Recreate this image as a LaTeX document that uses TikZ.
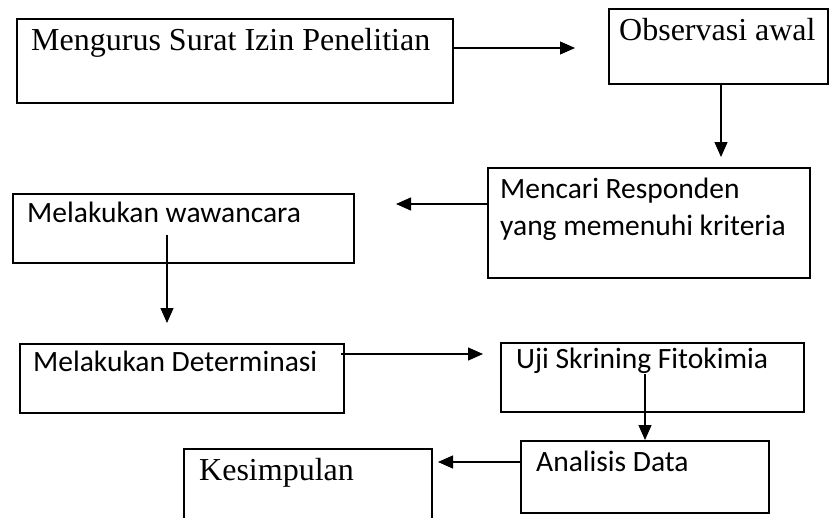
\documentclass[tikz,border=0pt]{standalone}
\usepackage{fontspec}
\setmainfont{Liberation Serif}
\newfontfamily\calibri{Carlito}
\usetikzlibrary{arrows.meta,calc,positioning}

\begin{document}
\begin{tikzpicture}[x=1pt,y=-1pt,
    box/.style={draw, line width=2pt, rectangle, anchor=north west, inner sep=0pt},
    serif/.style={anchor=base west, inner sep=0pt, font=\fontsize{32}{37}\selectfont},
    sans/.style={anchor=base west, inner sep=0pt, align=left, font=\calibri\fontsize{29.5}{37}\selectfont},
    arr/.style={line width=1.2pt, -{Triangle[length=15pt,width=13pt]}}]
        \useasboundingbox (0,0) rectangle (829,517);
        \clip (0,0) rectangle (829,517);
        %Draw boxes
        \node[box, minimum width=436pt, minimum height=84pt] (mengurus) at (16,18) {};
        \node[box, minimum width=219pt, minimum height=75pt] (observasi) at (608,8) {};
        \node[box, minimum width=322pt, minimum height=110pt] (mencari) at (487,167) {};
        \node[box, minimum width=341pt, minimum height=69pt] (wawancara) at (12,193) {};
        \node[box, minimum width=324pt, minimum height=69pt] (determinasi) at (19,343) {};
        \node[box, minimum width=303pt, minimum height=69pt] (skrining) at (500,342) {};
        \node[box, minimum width=248pt, minimum height=72pt] (analisis) at (520,440) {};
        \node[box, minimum width=248pt, minimum height=100pt] (kesimpulan) at (183,448) {};
        %Draw labels
        \node[serif] (tmengurus) at ([shift={(15,32)}]mengurus.north west) {Mengurus Surat Izin Penelitian};
        \node[serif] (tobservasi) at ([shift={(11,32)}]observasi.north west) {Observasi awal};
        \node[sans] (tmencari) at ([shift={(13,68)}]mencari.north west) {Mencari Responden\\yang memenuhi kriteria};
        \node[sans] (twawancara) at ([shift={(15,29)}]wawancara.north west) {Melakukan wawancara};
        \node[sans] (tdeterminasi) at ([shift={(14,28)}]determinasi.north west) {Melakukan Determinasi};
        \node[sans] (tskrining) at ([shift={(16,26)}]skrining.north west) {Uji Skrining Fitokimia};
        \node[sans] (tanalisis) at ([shift={(16,31)}]analisis.north west) {Analisis Data};
        \node[serif] (tkesimpulan) at ([shift={(16,32)}]kesimpulan.north west) {Kesimpulan};
        %Draw arrows
        \coordinate (a1) at (575,48);
        \coordinate (a2) at (721,157);
        \coordinate (a3) at (396,204);
        \coordinate (a4) at (167,323);
        \coordinate (a5) at (483,354);
        \coordinate (a7) at (438,462);
        \draw[arr] (mengurus.east |- a1) -- (a1);
        \draw[arr] (observasi.south -| a2) -- (a2);
        \draw[arr] (mencari.west |- a3) -- (a3);
        \draw[arr] ($(wawancara.center -| a4)+(0,6)$) -- (a4);
        \draw[arr] ($(determinasi.east |- a5)+(-4,0)$) -- (a5);
        \draw[arr] ($(skrining.center -| analisis.north)+(0,-4)$) -- (analisis.north);
        \draw[arr] (analisis.west |- a7) -- (a7);
      \end{tikzpicture}
\end{document}
